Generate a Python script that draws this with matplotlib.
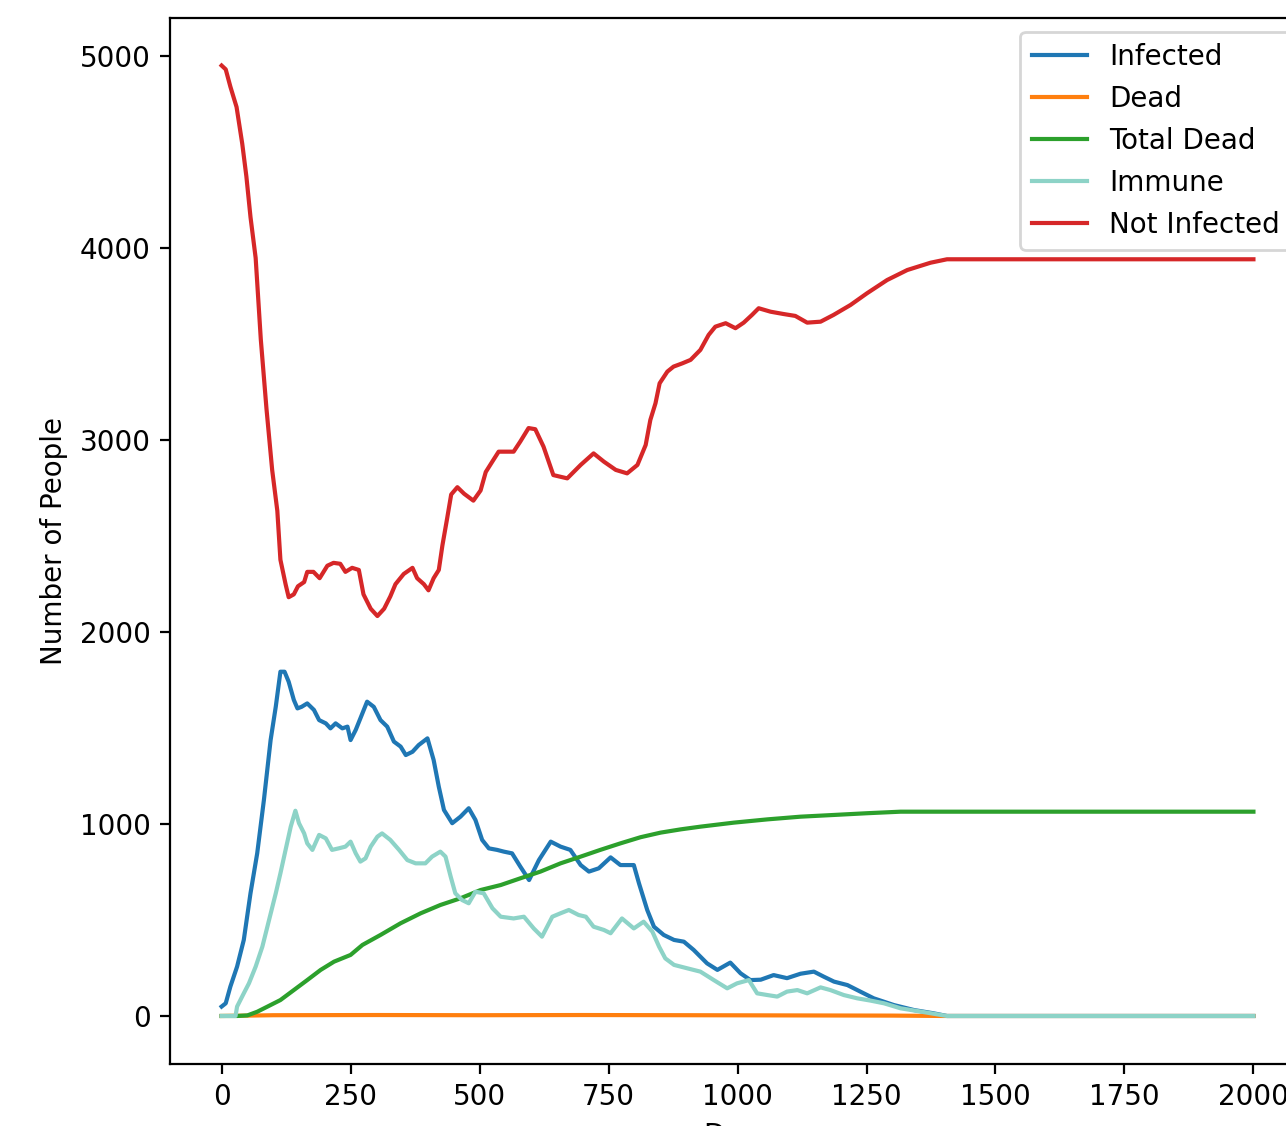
"""Epidemic simulation chart."""

from matplotlib import pyplot as plt

# values, per series: (day, people)
infected_days = [0, 8, 17, 30, 43, 56, 69, 82, 95, 105,
                 114, 122, 130, 140, 147, 155, 166, 179, 189, 202,
                 211, 221, 234, 244, 250, 260, 269, 282, 295, 308,
                 321, 334, 347, 357, 370, 382, 399, 411, 421, 431,
                 447, 463, 479, 492, 505, 518, 534, 547, 563, 579,
                 596, 615, 638, 657, 676, 696, 712, 731, 754, 773,
                 799, 809, 825, 838, 857, 877, 896, 915, 941, 961,
                 986, 1006, 1025, 1045, 1070, 1096, 1122, 1148, 1167, 1187,
                 1213, 1238, 1264, 1303, 1342, 1380, 1406, 2000]
infected = [49, 66, 153, 257, 396, 639, 847, 1125, 1437, 1611,
            1793, 1793, 1741, 1646, 1602, 1610, 1628, 1594, 1541, 1524,
            1498, 1524, 1498, 1507, 1437, 1490, 1550, 1637, 1610, 1541,
            1507, 1429, 1403, 1359, 1376, 1411, 1446, 1333, 1194, 1073,
            1004, 1038, 1082, 1021, 917, 873, 865, 856, 847, 778,
            708, 812, 908, 882, 865, 786, 752, 769, 826, 786,
            786, 691, 552, 465, 422, 396, 387, 344, 274, 240,
            278, 222, 187, 189, 213, 197, 220, 231, 205, 179,
            161, 127, 92, 57, 31, 14, 0, 0]

dead_days = [0, 100, 300, 500, 700, 900, 1100, 1300, 1400, 2000]
dead = [0, 4, 5, 4, 5, 4, 3, 2, 0, 0]

total_dead_days = [0, 30, 50, 69, 89, 114, 140, 166, 192, 218,
                   250, 273, 308, 347, 386, 424, 463, 502, 541, 579,
                   618, 657, 696, 734, 773, 812, 851, 890, 928, 993,
                   1058, 1122, 1187, 1251, 1316, 2000]
total_dead = [0, 0, 3, 22, 49, 83, 135, 187, 240, 283,
              318, 370, 422, 483, 535, 578, 613, 656, 682, 717,
              752, 795, 830, 865, 899, 931, 955, 972, 986, 1007,
              1024, 1038, 1047, 1056, 1064, 1064]

immune_days = [0, 27, 30, 43, 53, 66, 79, 92, 105, 114,
               124, 134, 143, 150, 160, 166, 176, 189, 202, 214,
               227, 240, 250, 260, 269, 279, 289, 302, 311, 327,
               344, 360, 376, 395, 408, 424, 434, 444, 453, 466,
               479, 492, 508, 525, 541, 566, 586, 605, 621, 641,
               657, 673, 692, 706, 721, 741, 754, 776, 799, 818,
               835, 848, 860, 877, 903, 928, 954, 980, 999, 1022,
               1038, 1058, 1077, 1096, 1116, 1135, 1161, 1180, 1206, 1232,
               1258, 1284, 1316, 1355, 1406, 2000]
immune = [0, 0, 49, 118, 170, 257, 361, 500, 639, 743,
          865, 986, 1069, 1004, 951, 899, 865, 943, 925, 865,
          873, 882, 908, 847, 804, 821, 882, 934, 951, 917,
          865, 812, 795, 795, 830, 856, 830, 726, 639, 604,
          587, 647, 639, 561, 517, 508, 517, 456, 413, 517,
          535, 552, 526, 517, 465, 448, 431, 508, 456, 491,
          439, 361, 300, 266, 248, 231, 187, 144, 170, 187,
          118, 109, 101, 127, 135, 118, 149, 135, 109, 92,
          80, 66, 40, 23, 0, 0]

not_infected_days = [0, 8, 17, 29, 40, 48, 56, 66, 76, 87,
                     98, 108, 114, 124, 130, 140, 148, 160, 166, 178,
                     190, 205, 217, 230, 240, 253, 266, 275, 289, 302,
                     315, 327, 337, 353, 370, 379, 392, 401, 411, 421,
                     428, 437, 445, 457, 470, 488, 502, 512, 527, 537,
                     553, 566, 579, 595, 608, 624, 643, 670, 696, 721,
                     741, 764, 786, 806, 822, 831, 841, 849, 864, 876,
                     893, 909, 928, 944, 957, 977, 996, 1012, 1028, 1041,
                     1064, 1089, 1112, 1135, 1161, 1186, 1219, 1251, 1290, 1329,
                     1374, 1406, 2000]
not_infected = [4950, 4930, 4840, 4734, 4543, 4373, 4161, 3948, 3523, 3162,
                2844, 2631, 2376, 2249, 2181, 2196, 2238, 2260, 2313, 2313,
                2280, 2345, 2360, 2355, 2313, 2334, 2323, 2196, 2121, 2083,
                2121, 2185, 2249, 2302, 2334, 2280, 2249, 2217, 2280, 2323,
                2451, 2589, 2716, 2754, 2720, 2684, 2737, 2833, 2897, 2939,
                2939, 2939, 2992, 3062, 3056, 2965, 2817, 2800, 2870, 2930,
                2887, 2844, 2826, 2870, 2974, 3104, 3191, 3295, 3356, 3382,
                3399, 3417, 3469, 3547, 3590, 3608, 3582, 3611, 3651, 3686,
                3668, 3656, 3646, 3611, 3616, 3651, 3703, 3764, 3833, 3885,
                3923, 3941, 3941]


def run():
    """Main."""
    dpi = 200
    fig = plt.figure(figsize=(1286 / dpi, 1126 / dpi), dpi=dpi)
    # the reference is a cropped screenshot, so the axes run past the right edge
    ax = fig.add_axes([0.1322, 0.0555, 0.8826, 0.9285])

    ax.plot(infected_days, infected, color="tab:blue", label="Infected")
    ax.plot(dead_days, dead, color="tab:orange", label="Dead")
    ax.plot(total_dead_days, total_dead, color="tab:green", label="Total Dead")
    ax.plot(immune_days, immune, color="#8dd3c7", label="Immune")
    ax.plot(not_infected_days, not_infected, color="tab:red", label="Not Infected")

    ax.set_xlabel("Days")
    ax.set_ylabel("Number of People")
    ax.set_xticks([0, 250, 500, 750, 1000, 1250, 1500, 1750, 2000])
    ax.set_yticks([0, 1000, 2000, 3000, 4000, 5000])
    ax.legend(loc="upper right")

    fig.savefig("out.png", dpi=dpi)


if __name__ == "__main__":
    run()
